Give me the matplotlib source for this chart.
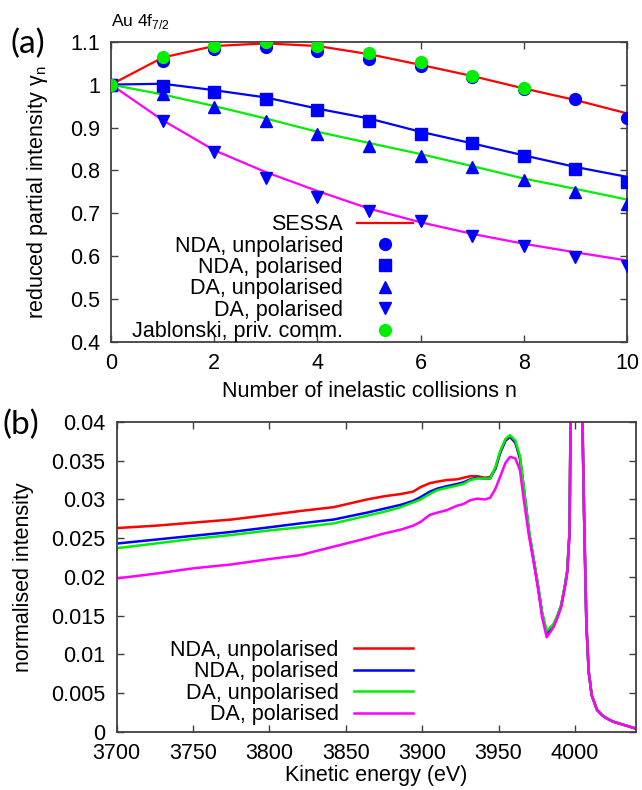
# Au 4f7/2 partial intensities (a) and normalised spectra (b), gnuplot look
import numpy as np
import matplotlib
matplotlib.use("Agg")
from matplotlib import pyplot as plt
from matplotlib.ticker import FuncFormatter

plt.rcParams["font.family"] = ["Liberation Sans", "DejaVu Sans"]
plt.rcParams["mathtext.fontset"] = "custom"
plt.rcParams["mathtext.rm"] = "Liberation Sans"
FS = 15.5
plt.rcParams["font.size"] = FS

# ---- panel (a) data: reduced partial intensity vs number of collisions
n = [0, 1, 2, 3, 4, 5, 6, 7, 8, 9, 10]
sessa = [1.0, 1.063, 1.090, 1.096, 1.090, 1.071, 1.046, 1.020, 0.991, 0.964, 0.933]
line_nda_pol = [1.0, 1.002, 0.987, 0.970, 0.944, 0.921, 0.890, 0.863, 0.835, 0.808, 0.785]
line_da_unpol = [1.0, 0.977, 0.950, 0.921, 0.890, 0.864, 0.838, 0.810, 0.781, 0.757, 0.732]
line_da_pol = [1.0, 0.917, 0.847, 0.796, 0.752, 0.711, 0.679, 0.652, 0.629, 0.609, 0.590]

nda_unpol = [1.0, 1.055, 1.082, 1.087, 1.079, 1.060, 1.044, 1.017, 0.990, 0.966, 0.922]
nda_pol = [1.0, 0.997, 0.983, 0.966, 0.940, 0.915, 0.884, 0.863, 0.834, 0.803, 0.772]
da_unpol = [1.0, 0.977, 0.948, 0.915, 0.886, 0.856, 0.834, 0.807, 0.778, 0.750, 0.722]
da_pol = [1.0, 0.915, 0.843, 0.783, 0.738, 0.705, 0.682, 0.648, 0.623, 0.599, 0.578]
n_jab = [0, 1, 2, 3, 4, 5, 6, 7, 8]
jablonski = [1.0, 1.065, 1.091, 1.100, 1.091, 1.073, 1.053, 1.021, 0.991]

# ---- panel (b) data: normalised intensity vs kinetic energy (eV)
energy = [3700, 3725, 3750, 3775, 3800, 3820, 3842, 3864, 3875, 3886, 3894, 3899,
          3905, 3910, 3916, 3923, 3927, 3931.5, 3936, 3941, 3944.5, 3948, 3951,
          3954.5, 3957.5, 3961, 3964, 3966.5, 3970, 3973, 3976, 3978.5, 3981.5,
          3984, 3986, 3988.5, 3991, 3993.5, 3995, 3996.5, 3998, 4001, 4004.5,
          4006, 4007.5, 4009, 4011, 4014.5, 4018, 4021, 4025, 4030, 4035, 4040]
# high-energy side (3998 eV onwards), common to all four curves
edge = [0.060, 0.2, 0.045, 0.028, 0.0140, 0.0078, 0.0047, 0.0028, 0.0021, 0.0017,
        0.0013, 0.0010, 0.0007, 0.0004]

spec_nda_unpol = [0.0263, 0.0266, 0.0270, 0.0274, 0.0280, 0.0285, 0.0290, 0.0300,
                  0.0304, 0.0307, 0.0310, 0.0316, 0.0321, 0.0323, 0.0325, 0.0326,
                  0.0328, 0.0330, 0.0330, 0.0328, 0.0329, 0.0340, 0.0360, 0.0376,
                  0.0381, 0.0373, 0.0353, 0.0314, 0.0256, 0.0221, 0.0185, 0.0152,
                  0.0127, 0.0133, 0.0137, 0.0148, 0.0162, 0.0188, 0.0207, 0.0258] + edge
spec_nda_pol = [0.0243, 0.0248, 0.0253, 0.0258, 0.0264, 0.0269, 0.0274, 0.0283,
                0.0288, 0.0293, 0.0298, 0.0303, 0.0310, 0.0314, 0.0317, 0.0320,
                0.0322, 0.0326, 0.0328, 0.0327, 0.0327, 0.0340, 0.0360, 0.0376,
                0.0381, 0.0374, 0.0354, 0.0315, 0.0257, 0.0222, 0.0186, 0.0153,
                0.0128, 0.0134, 0.0138, 0.0149, 0.0163, 0.0189, 0.0208, 0.0259] + edge
spec_da_unpol = [0.0237, 0.0243, 0.0249, 0.0254, 0.0260, 0.0264, 0.0269, 0.0279,
                 0.0284, 0.0290, 0.0296, 0.0300, 0.0307, 0.0312, 0.0315, 0.0318,
                 0.0320, 0.0325, 0.0327, 0.0327, 0.0327, 0.0342, 0.0362, 0.0378,
                 0.0383, 0.0376, 0.0356, 0.0317, 0.0259, 0.0224, 0.0188, 0.0155,
                 0.0130, 0.0135, 0.0139, 0.0150, 0.0164, 0.0190, 0.0209, 0.0260] + edge
spec_da_pol = [0.0198, 0.0204, 0.0211, 0.0216, 0.0223, 0.0228, 0.0239, 0.0250,
               0.0256, 0.0261, 0.0266, 0.0271, 0.0280, 0.0283, 0.0286, 0.0292,
               0.0294, 0.0299, 0.0301, 0.0300, 0.0302, 0.0314, 0.0329, 0.0347,
               0.0355, 0.0353, 0.0338, 0.0300, 0.0252, 0.0219, 0.0183, 0.0148,
               0.0122, 0.0129, 0.0135, 0.0147, 0.0161, 0.0187, 0.0206, 0.0257] + edge

RED, BLUE, GREEN, MAG = "#ff0000", "#0000ff", "#00ee00", "#ff00ff"
FRAME = "#404040"

gfmt = FuncFormatter(lambda v, p: "%g" % round(v, 6))


def gnuplot_frame(ax):
    for s in ax.spines.values():
        s.set_color(FRAME)
        s.set_linewidth(1.3)
    ax.tick_params(direction="in", top=True, right=True, length=5, width=1,
                   color=FRAME, pad=8, labelsize=FS)
    ax.xaxis.set_major_formatter(gfmt)
    ax.yaxis.set_major_formatter(gfmt)


fig = plt.figure(figsize=(6.42, 7.90), dpi=100)

# ---------------- panel (a)
ax1 = fig.add_axes([111 / 642, 1 - 342 / 790, 516 / 642, 300.3 / 790])
gnuplot_frame(ax1)
ax1.plot(n, sessa, color=RED, lw=1.6, label="SESSA", zorder=2)
ax1.plot(n, line_nda_pol, color=BLUE, lw=1.6, zorder=2)
ax1.plot(n, line_da_unpol, color=GREEN, lw=1.6, zorder=2)
ax1.plot(n, line_da_pol, color=MAG, lw=1.6, zorder=2)
ax1.plot(n, nda_unpol, "o", color=BLUE, ms=8.5, label="NDA, unpolarised", zorder=3)
ax1.plot(n, nda_pol, "s", color=BLUE, ms=8, label="NDA, polarised", zorder=3)
ax1.plot(n, da_unpol, "^", color=BLUE, ms=8, label="DA, unpolarised", zorder=3)
ax1.plot(n, da_pol, "v", color=BLUE, ms=8, label="DA, polarised", zorder=3)
ax1.plot(n_jab, jablonski, "o", color=GREEN, ms=8.5, label="Jablonski, priv. comm.", zorder=4)
ax1.set_xlim(0, 10)
ax1.set_ylim(0.4, 1.1)
ax1.set_xticks([0, 2, 4, 6, 8, 10])
ax1.set_yticks(np.arange(0.4, 1.11, 0.1))
ax1.set_xlabel("Number of inelastic collisions n", labelpad=5)
ax1.set_ylabel("reduced partial intensity γ$_\\mathregular{n}$")
ax1.yaxis.set_label_coords(-0.118, 0.5)
leg1 = ax1.legend(loc="upper right", bbox_to_anchor=(0.585, 0.426), frameon=False,
                  markerfirst=False, handlelength=2.6, handletextpad=0.65,
                  labelspacing=0.02, borderpad=0, borderaxespad=0, fontsize=FS)
ax1.text(0.0, 1.035, "Au 4f$_\\mathregular{7/2}$", transform=ax1.transAxes,
         fontsize=12.5, ha="left", va="bottom")
fig.text(11 / 642, 1 - 44 / 790, "(a)", family="Lato", fontsize=24, va="center")

# ---------------- panel (b)
ax2 = fig.add_axes([116.7 / 642, 1 - 731.7 / 790, 519.3 / 642, 309.7 / 790])
gnuplot_frame(ax2)
ax2.plot(energy, spec_nda_unpol, color=RED, lw=1.8, label="NDA, unpolarised")
ax2.plot(energy, spec_nda_pol, color=BLUE, lw=1.8, label="NDA, polarised")
ax2.plot(energy, spec_da_unpol, color=GREEN, lw=1.8, label="DA, unpolarised")
ax2.plot(energy, spec_da_pol, color=MAG, lw=1.8, label="DA, polarised")
ax2.set_xlim(3700, 4040)
ax2.set_ylim(0, 0.04)
ax2.set_xticks([3700, 3750, 3800, 3850, 3900, 3950, 4000])
ax2.set_yticks(np.arange(0, 0.0401, 0.005))
ax2.set_xlabel("Kinetic energy (eV)", labelpad=1)
ax2.set_ylabel("normalised intensity")
ax2.yaxis.set_label_coords(-0.160, 0.5)
leg2 = ax2.legend(loc="upper right", bbox_to_anchor=(0.5706, 0.2965), frameon=False,
                  markerfirst=False, handlelength=2.75, handletextpad=0.7,
                  labelspacing=0.02, borderpad=0, borderaxespad=0, fontsize=FS)
fig.text(2 / 642, 1 - 425 / 790, "(b)", family="Lato", fontsize=24, va="center")

plt.savefig("out.png", dpi=100)
